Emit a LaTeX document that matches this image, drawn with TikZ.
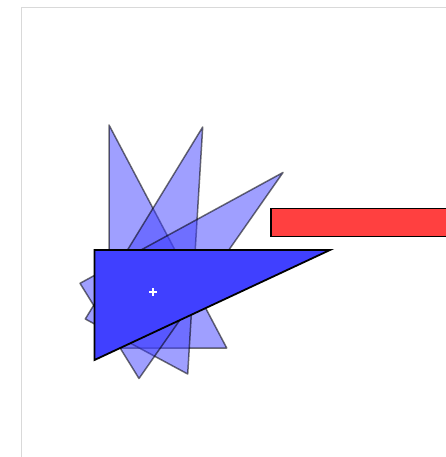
\documentclass[tikz,border=0pt]{standalone}
\usepackage{tikz}

\definecolor{triblue}{HTML}{4040FF}
\definecolor{barred}{HTML}{FF4040}
\definecolor{framegray}{HTML}{D9D9D9}

\begin{document}
\begin{tikzpicture}[x=1pt, y=-1pt,
        ghost/.style = {draw=black, draw opacity=0.55, fill=triblue, fill opacity=0.5, line width=1.5pt, line join=round},
        current/.style = {draw=black, line width=1.8pt, line join=miter},
        marker/.style = {draw=white, line width=1.3pt}]
    \useasboundingbox (0,0) rectangle (446,457);
    \draw[framegray, line width=1pt] (21.5,470) -- (21.5,7.5) -- (470,7.5);

    % earlier states
    \foreach \ax/\ay/\bx/\by/\cx/\cy in {109/348/109/125/226.7/348,
                                         85.3/319/202.7/127/187.7/374,
                                         80/283.3/283/172.5/139/378.5}
        \path[ghost] (\ax,\ay) -- (\bx,\by) -- (\cx,\cy) -- cycle;

    % current state
    \path[current, fill=triblue] (94.5,250) -- (330,250) -- (94.5,360) -- cycle;
    \path[current, line width=1.5pt, fill=barred] (271,208.3) rectangle (460,236.3);

    \coordinate (pivot) at (153,292);
    \draw[marker] ([xshift=-4pt]pivot) -- ([xshift=4pt]pivot);
    \draw[marker] ([yshift=-4pt]pivot) -- ([yshift=4pt]pivot);
\end{tikzpicture}
\end{document}
